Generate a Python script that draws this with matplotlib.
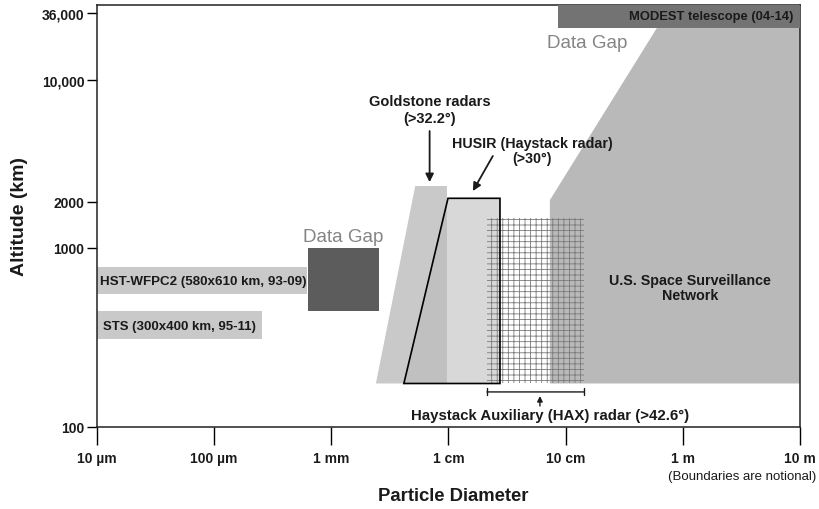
import numpy as np
import matplotlib
matplotlib.use("Agg")
import matplotlib.pyplot as plt
from matplotlib.ticker import FixedLocator, FixedFormatter, NullLocator

plt.rcParams['font.family'] = ['Liberation Sans', 'DejaVu Sans']
plt.rcParams['hatch.color'] = '#7a7a7a'
plt.rcParams['hatch.linewidth'] = 0.6
NARROW = ['Liberation Sans Narrow', 'Liberation Sans', 'DejaVu Sans']

# ---------------- data (diameter in metres, altitude in km) ----------------
x_ticks = [1e-5, 1e-4, 1e-3, 1e-2, 1e-1, 1, 10]
x_labels = ['10 µm', '100 µm', '1 mm', '1 cm', '10 cm', '1 m', '10 m']
y_ticks = [100, 1000, 2000, 10000, 36000]
y_labels = ['100', '1000', '2000', '10,000', '36,000']

hst_x = [1e-5, 6.2e-4]
hst_alt = [553, 783]
sts_x = [1e-5, 2.56e-4]
sts_alt = [310, 445]
gap_x = [6.3e-4, 2.55e-3]
gap_alt = [445, 1000]
gold_x = [2.4e-3, 5.2e-3, 9.7e-3, 9.7e-3]
gold_alt = [175, 2470, 2470, 175]
husir_x = [4.16e-3, 9.9e-3, 0.0275, 0.0275]
husir_alt = [175, 2100, 2100, 175]
hax_x = [0.0213, 0.143]
hax_alt = [175, 1570]
ssn_x = [0.0733, 0.0733, 0.60, 10, 10]
ssn_alt = [175, 2050, 27000, 27000, 175]
modest_x = [0.086, 10]
modest_alt = [27000, 60000]

# ---------------- notional altitude scale ----------------
LOGK = np.log10([100, 1000, 2000, 10000, 36000])
POSK = np.array([0.0, 179.0, 225.0, 347.0, 414.0])
S0 = (POSK[1] - POSK[0]) / (LOGK[1] - LOGK[0])
S1 = (POSK[-1] - POSK[-2]) / (LOGK[-1] - LOGK[-2])


def fwd(a):
    a = np.asarray(a, float)
    la = np.log10(np.clip(a, 1e-6, None))
    out = np.interp(la, LOGK, POSK)
    out = np.where(la < LOGK[0], POSK[0] + (la - LOGK[0]) * S0, out)
    out = np.where(la > LOGK[-1], POSK[-1] + (la - LOGK[-1]) * S1, out)
    return out


def inv(p):
    p = np.asarray(p, float)
    la = np.interp(p, POSK, LOGK)
    la = np.where(p < POSK[0], LOGK[0] + (p - POSK[0]) / S0, la)
    la = np.where(p > POSK[-1], LOGK[-1] + (p - POSK[-1]) / S1, la)
    return 10 ** la


fig = plt.figure(figsize=(8.19, 5.10), dpi=100)
ax = fig.add_axes([97 / 819, 82 / 510, 703 / 819, 422.3 / 510])
ax.set_xscale('log')
ax.set_yscale('function', functions=(fwd, inv))
ax.set_xlim(1e-5, 10)
ax.set_ylim(100, float(inv(422.3)))

# ---------------- regions ----------------
ax.fill(ssn_x, ssn_alt, color='#b9b9b9', lw=0, zorder=1)
ax.fill(husir_x, husir_alt, color='#d8d8d8', lw=0, zorder=2)
ax.fill(gold_x, gold_alt, color='#b8b8b8', alpha=0.75, lw=0, zorder=3)
ax.fill([hax_x[0], hax_x[1], hax_x[1], hax_x[0]],
        [hax_alt[0], hax_alt[0], hax_alt[1], hax_alt[1]],
        facecolor='none', edgecolor='#7a7a7a', hatch='+++', lw=0, zorder=4)
ax.fill(husir_x, husir_alt, facecolor='none', edgecolor='black', lw=1.2, zorder=5)

ax.fill([hst_x[0], hst_x[1], hst_x[1], hst_x[0]],
        [hst_alt[0], hst_alt[0], hst_alt[1], hst_alt[1]], color='#c9c9c9', lw=0, zorder=2)
ax.fill([sts_x[0], sts_x[1], sts_x[1], sts_x[0]],
        [sts_alt[0], sts_alt[0], sts_alt[1], sts_alt[1]], color='#c9c9c9', lw=0, zorder=2)
ax.fill([gap_x[0], gap_x[1], gap_x[1], gap_x[0]],
        [gap_alt[0], gap_alt[0], gap_alt[1], gap_alt[1]], color='#5c5c5c', lw=0, zorder=2)
ax.fill([modest_x[0], modest_x[1], modest_x[1], modest_x[0]],
        [modest_alt[0], modest_alt[0], modest_alt[1], modest_alt[1]],
        color='#737373', lw=0, zorder=5)

# ---------------- texts ----------------
bold = dict(fontweight='bold', color='#1a1a1a', zorder=7)
ax.text(1.06e-5, 655, 'HST-WFPC2 (580x610 km, 93-09)', fontsize=9.6, ha='left', va='center', **bold)
ax.text(1.125e-5, 366, 'STS (300x400 km, 95-11)', fontsize=9.5, ha='left', va='center', **bold)
ax.text(8.7, 34000, 'MODEST telescope (04-14)', fontsize=9.4, ha='right', va='center', **bold)
ax.text(1.256e-3, 1198, 'Data Gap', fontsize=13.5, color='#858585', ha='center', va='center', zorder=7)
ax.text(0.152, 20650, 'Data Gap', fontsize=13.5, color='#858585', ha='center', va='center', zorder=7)
ax.text(6.9e-3, 6780, 'Goldstone radars\n(>32.2°)', fontsize=10.5, ha='center', va='center',
        linespacing=1.2, **bold)
ax.text(0.0515, 3950, 'HUSIR (Haystack radar)\n(>30°)', fontsize=10.3, ha='center', va='center',
        linespacing=1.05, **bold)
ax.text(1.15, 605, 'U.S. Space Surveillance\nNetwork', fontsize=10.3, ha='center', va='center',
        linespacing=1.1, **bold)
ax.text(0.0733, 117, 'Haystack Auxiliary (HAX) radar (>42.6°)', fontsize=10.8, ha='center',
        va='center', **bold)

arrow = dict(arrowstyle='-|>', color='#1a1a1a', lw=1.3, mutation_scale=12,
             shrinkA=0, shrinkB=0)
ax.annotate('', xy=(6.9e-3, 2600), xytext=(6.9e-3, 5100), arrowprops=arrow, zorder=7)
ax.annotate('', xy=(0.01614, 2310), xytext=(0.0239, 3670), arrowprops=arrow, zorder=7)
ax.annotate('', xy=(0.0603, 149), xytext=(0.0603, 131),
            arrowprops=dict(arrowstyle='-|>', color='#1a1a1a', lw=1.0, mutation_scale=8,
                            shrinkA=0, shrinkB=0), zorder=7)
ax.annotate('', xy=(hax_x[1], 157), xytext=(hax_x[0], 157),
            arrowprops=dict(arrowstyle='|-|, widthA=0.25, widthB=0.25', color='#1a1a1a',
                            lw=1.0, shrinkA=0, shrinkB=0), zorder=7)

# ---------------- axes styling ----------------
ax.xaxis.set_major_locator(FixedLocator(x_ticks))
ax.xaxis.set_major_formatter(FixedFormatter(x_labels))
ax.xaxis.set_minor_locator(NullLocator())
ax.yaxis.set_major_locator(FixedLocator(y_ticks))
ax.yaxis.set_major_formatter(FixedFormatter(y_labels))
ax.yaxis.set_minor_locator(NullLocator())
ax.tick_params(axis='x', direction='out', length=13, width=1, pad=4, labelsize=10)
ax.tick_params(axis='y', direction='out', length=7, width=1, pad=2, labelsize=10)
for lab in ax.get_xticklabels() + ax.get_yticklabels():
    lab.set_fontweight('bold')
    lab.set_color('#1a1a1a')
for sp in ax.spines.values():
    sp.set_linewidth(1.1)
    sp.set_color('#222222')

ax.set_ylabel('Altitude (km)', fontsize=14, fontweight='bold', color='#1a1a1a')
ax.yaxis.set_label_coords(-0.098, 0.5)
ax.set_xlabel('Particle Diameter', fontsize=13.3, fontweight='bold', color='#1a1a1a')
ax.xaxis.set_label_coords(0.507, -0.163)
ax.xaxis.label.set_va('center')
ax.text(0.918, -0.117, '(Boundaries are notional)', transform=ax.transAxes, fontsize=9.5,
        ha='center', va='center', color='#1a1a1a', family=NARROW)

fig.savefig('out.png', dpi=100)
